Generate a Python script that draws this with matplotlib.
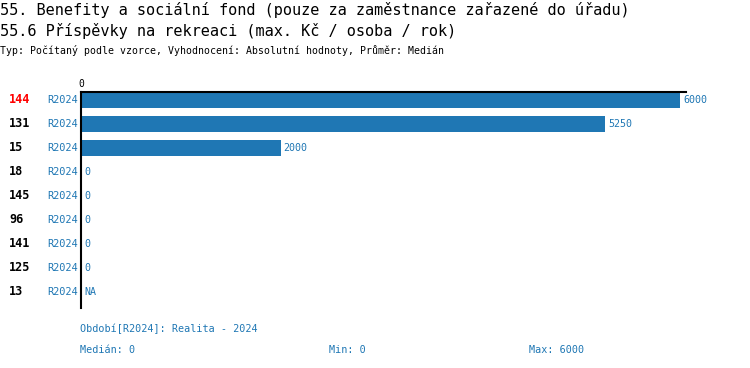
import matplotlib
matplotlib.use("Agg")
import matplotlib.pyplot as plt
import matplotlib.transforms as mtransforms

ids = ["144", "131", "15", "18", "145", "96", "141", "125", "13"]
period = ["R2024"] * 9
values = [6000, 5250, 2000, 0, 0, 0, 0, 0, None]
value_labels = ["6000", "5250", "2000", "0", "0", "0", "0", "0", "NA"]
highlight = "144"

title1 = "55. Benefity a sociální fond (pouze za zaměstnance zařazené do úřadu)"
title2 = "55.6 Příspěvky na rekreaci (max. Kč / osoba / rok)"
subtitle = "Typ: Počítaný podle vzorce, Vyhodnocení: Absolutní hodnoty, Průměr: Medián"
footer1 = "Období[R2024]: Realita - 2024"
footer_median = "Medián: 0"
footer_min = "Min: 0"
footer_max = "Max: 6000"

blue = "#1f77b4"
mono = "DejaVu Sans Mono"

fig = plt.figure(figsize=(7.5, 3.68), dpi=100)
W, H = 750, 368
left, right, top, bottom = 81 / W, 686 / W, 1 - 92 / H, 1 - 308 / H
ax = fig.add_axes([left, bottom, right - left, top - bottom])

n = len(ids)
ypos = list(range(n))
bar_vals = [v if v is not None else 0 for v in values]
ax.barh(ypos, bar_vals, height=0.65, color=blue)
ax.set_ylim(n - 1 + 0.667, -0.333)
ax.set_xlim(0, 6060)

for s in ["right", "bottom"]:
    ax.spines[s].set_visible(False)
ax.spines["left"].set_linewidth(1.5)
ax.spines["top"].set_linewidth(1.5)
ax.set_xticks([0])
ax.xaxis.tick_top()
ax.tick_params(axis="x", length=0, pad=2, labelsize=7)
for t in ax.get_xticklabels():
    t.set_family(mono)
ax.set_yticks([])

trans = mtransforms.blended_transform_factory(fig.transFigure, ax.transData)
for i in range(n):
    v = bar_vals[i]
    ax.text(v + 30, i, value_labels[i], color=blue, fontsize=7.2, family=mono,
            va="center", ha="left")
    ax.text(-30, i, period[i], color=blue, fontsize=7.4, family=mono,
            va="center", ha="right")
    ax.text(9 / W, i, ids[i], transform=trans,
            color="red" if ids[i] == highlight else "black",
            fontsize=8.5, family=mono, fontweight="bold", va="center", ha="left",
            clip_on=False)

fig.text(0, 1 - 10 / H, title1, fontsize=11, family=mono, va="center", ha="left")
fig.text(0, 1 - 31 / H, title2, fontsize=11, family=mono, va="center", ha="left")
fig.text(0, 1 - 50 / H, subtitle, fontsize=7.1, family=mono, va="center", ha="left")

fig.text(80 / W, 1 - 329 / H, footer1, fontsize=7.3, family=mono, color=blue, va="center", ha="left")
fig.text(80 / W, 1 - 350 / H, footer_median, fontsize=7.3, family=mono, color=blue, va="center", ha="left")
fig.text(329 / W, 1 - 350 / H, footer_min, fontsize=7.3, family=mono, color=blue, va="center", ha="left")
fig.text(529 / W, 1 - 350 / H, footer_max, fontsize=7.3, family=mono, color=blue, va="center", ha="left")

fig.savefig("out.png", dpi=100)
